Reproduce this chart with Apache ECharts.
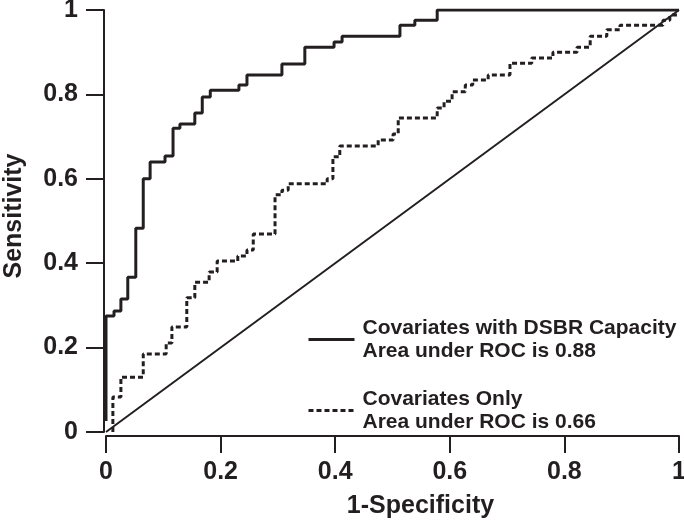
<!DOCTYPE html>
<html>
<head>
<meta charset="utf-8">
<script src="https://cdn.jsdelivr.net/npm/echarts@6/dist/echarts.min.js"></script>
<style>
html,body{margin:0;padding:0;background:#fff;}
#chart{width:684px;height:522px;}
</style>
</head>
<body>
<div id="chart"></div>
<script>
// ---- data ----
var seriesNames = ["Covariates with DSBR Capacity", "Covariates Only"];
var aucValues = ["0.88", "0.66"];
var tickLabels = ["0", "0.2", "0.4", "0.6", "0.8", "1"];

// ROC curve (with DSBR capacity): corner points, 1-specificity / sensitivity
var dsbrFpr = [0, 0, 0.014, 0.014, 0.026, 0.026, 0.038, 0.038, 0.052, 0.052, 0.065, 0.065, 0.077, 0.077, 0.103, 0.103, 0.117, 0.117, 0.129, 0.129, 0.155, 0.155, 0.168, 0.168, 0.182, 0.182, 0.232, 0.232, 0.246, 0.246, 0.307, 0.307, 0.347, 0.347, 0.398, 0.398, 0.412, 0.412, 0.513, 0.513, 0.539, 0.539, 0.578, 0.578, 1];
var dsbrTpr = [0.026, 0.275, 0.275, 0.287, 0.287, 0.315, 0.315, 0.367, 0.367, 0.483, 0.483, 0.600, 0.600, 0.640, 0.640, 0.654, 0.654, 0.720, 0.720, 0.730, 0.730, 0.756, 0.756, 0.794, 0.794, 0.810, 0.810, 0.822, 0.822, 0.846, 0.846, 0.872, 0.872, 0.912, 0.912, 0.924, 0.924, 0.938, 0.938, 0.964, 0.964, 0.976, 0.976, 1, 1];

// ROC curve (covariates only)
var covFpr = [0.012, 0.012, 0.026, 0.026, 0.065, 0.065, 0.105, 0.105, 0.115, 0.115, 0.141, 0.141, 0.155, 0.155, 0.180, 0.180, 0.194, 0.194, 0.230, 0.230, 0.246, 0.246, 0.257, 0.257, 0.295, 0.295, 0.307, 0.307, 0.318, 0.318, 0.386, 0.386, 0.396, 0.396, 0.408, 0.408, 0.475, 0.475, 0.501, 0.501, 0.510, 0.510, 0.578, 0.578, 0.590, 0.590, 0.604, 0.604, 0.627, 0.627, 0.640, 0.640, 0.667, 0.667, 0.705, 0.705, 0.743, 0.743, 0.780, 0.780, 0.822, 0.822, 0.845, 0.845, 0.874, 0.874, 0.897, 0.897, 0.972, 0.972, 0.984, 0.984, 1];
var covTpr = [0, 0.083, 0.083, 0.130, 0.130, 0.185, 0.185, 0.211, 0.211, 0.249, 0.249, 0.318, 0.318, 0.355, 0.355, 0.379, 0.379, 0.405, 0.405, 0.417, 0.417, 0.431, 0.431, 0.469, 0.469, 0.562, 0.562, 0.573, 0.573, 0.588, 0.588, 0.600, 0.600, 0.652, 0.652, 0.678, 0.678, 0.692, 0.692, 0.706, 0.706, 0.744, 0.744, 0.768, 0.768, 0.784, 0.784, 0.806, 0.806, 0.822, 0.822, 0.834, 0.834, 0.846, 0.846, 0.874, 0.874, 0.886, 0.886, 0.900, 0.900, 0.912, 0.912, 0.938, 0.938, 0.953, 0.953, 0.964, 0.964, 0.976, 0.976, 0.988, 0.988, 1];

// reference diagonal
var diagX = [0, 1];
var diagY = [0, 1];

// ---- build ----
function pairs(xs, ys) { return xs.map(function (x, i) { return [x, ys[i]]; }); }
var ink = '#231f20';
var font = 'Liberation Sans, Arial, sans-serif';

var chart = echarts.init(document.getElementById('chart'), null, {renderer: 'canvas'});
function axisCommon(name) {
  return {
    type: 'value', min: 0, max: 1, interval: 0.2,
    name: name, nameLocation: 'middle',
    nameTextStyle: {fontFamily: font, fontWeight: 'bold', fontSize: 25, color: ink},
    axisLine: {show: true, onZero: false, lineStyle: {color: ink, width: 2}},
    axisTick: {show: true, inside: false, lineStyle: {color: ink, width: 2}},
    axisLabel: {
      fontFamily: font, fontWeight: 'bold', fontSize: 25, color: ink,
      formatter: function (v) { return tickLabels[Math.round(v / 0.2)]; }
    },
    splitLine: {show: false}
  };
}
var xAxis = axisCommon('1-Specificity');
xAxis.offset = 4; xAxis.nameGap = 58; xAxis.axisTick.length = 17; xAxis.axisLabel.margin = 24;
xAxis.nameTextStyle.padding = [0, 0, 0, 56];
var yAxis = axisCommon('Sensitivity');
yAxis.offset = 2; yAxis.nameGap = 77; yAxis.axisTick.length = 18; yAxis.axisLabel.margin = 26;
yAxis.nameTextStyle.padding = [0, 0, 0, 10];

chart.setOption({
  animation: false,
  backgroundColor: '#fff',
  grid: {left: 106, right: 5, top: 10, bottom: 90, containLabel: false, outerBoundsMode: 'none'},
  xAxis: xAxis,
  yAxis: yAxis,
  legend: {
    data: seriesNames,
    orient: 'vertical',
    left: 302, top: 300,
    itemWidth: 46, itemHeight: 14, itemGap: 2,
    itemStyle: {opacity: 0},
    lineStyle: {width: 3},
    formatter: function (name) {
      return name + '\nArea under ROC is ' + aucValues[seriesNames.indexOf(name)];
    },
    textStyle: {fontFamily: font, fontWeight: 'bold', fontSize: 21, lineHeight: 23, color: ink, padding: [23, 0, 0, 3]}
  },
  series: [
    {
      name: seriesNames[0], type: 'line', data: pairs(dsbrFpr, dsbrTpr),
      showSymbol: false, symbol: 'none',
      lineStyle: {color: ink, width: 3, type: 'solid'}, itemStyle: {color: ink}
    },
    {
      name: seriesNames[1], type: 'line', data: pairs(covFpr, covTpr),
      showSymbol: false, symbol: 'none',
      lineStyle: {color: ink, width: 3, type: [5, 3]}, itemStyle: {color: ink}
    },
    {
      name: 'diagonal', type: 'line', data: pairs(diagX, diagY),
      showSymbol: false, symbol: 'none',
      lineStyle: {color: ink, width: 2}, itemStyle: {color: ink}
    }
  ]
});
</script>
</body>
</html>
